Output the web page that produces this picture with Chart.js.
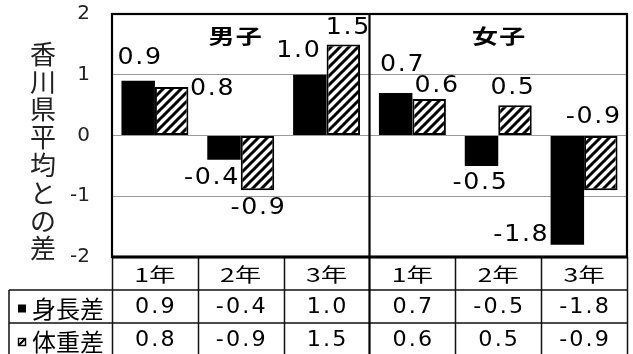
<!DOCTYPE html>
<html>
<head>
<meta charset="utf-8">
<script src="https://cdn.jsdelivr.net/npm/chart.js@4/dist/chart.umd.min.js"></script>
<style>
  html, body { margin: 0; padding: 0; background: #fff; }
  #wrap { width: 633px; height: 354px; position: relative; }
</style>
</head>
<body>
<div id="wrap"><canvas id="c" width="633" height="354"></canvas></div>
<script>
// Grade categories, split into boys (男子) and girls (女子)
const groups = ['男子', '女子'];
const grades = ['1年', '2年', '3年'];
const categories = ['1年', '2年', '3年', '1年', '2年', '3年'];
const seriesNames = ['身長差', '体重差'];
// Difference from the Kagawa prefecture average
const heightDiff = [0.9, -0.4, 1.0, 0.7, -0.5, -1.8];
const weightDiff = [0.8, -0.9, 1.5, 0.6, 0.5, -0.9];
const yTicks = [-2, -1, 0, 1, 2];
const yTitle = '香川県平均との差';

// Label placement nudges (px) from each bar's end, per series
const labelNudge = [
  [[1, -23], [-13, 18], [-12, -24], [6, -28], [-2, 17], [-47, -10]],
  [[40, 2], [0, 18], [4, -16], [7, -13], [-3, -17], [-8, -73]]
];
const groupNudge = [-6, 0];

const NUM_FONT = '"DejaVu Sans", sans-serif';
const JP_FONT = '"Noto Sans CJK JP", sans-serif';

function hatchPattern() {
  const s = 9;
  const c = document.createElement('canvas');
  c.width = s; c.height = s;
  const g = c.getContext('2d');
  g.fillStyle = '#fff';
  g.fillRect(0, 0, s, s);
  g.strokeStyle = '#000';
  g.lineWidth = 3;
  g.beginPath();
  g.moveTo(-2, s + 2); g.lineTo(s + 2, -2);
  g.moveTo(-2, 2); g.lineTo(2, -2);
  g.moveTo(s - 2, s + 2); g.lineTo(s + 2, s - 2);
  g.stroke();
  return g.createPattern(c, 'repeat');
}

// text widened horizontally by sx, centred on (x, y)
function wideText(ctx, text, x, y, sx) {
  ctx.save();
  ctx.translate(x, y);
  ctx.scale(sx, 1);
  ctx.fillText(text, 0, 0);
  ctx.restore();
}

const ctx0 = document.getElementById('c').getContext('2d');
const hatch = hatchPattern();

const valueLabels = {
  id: 'valueLabels',
  afterDatasetsDraw(chart) {
    const ctx = chart.ctx;
    ctx.save();
    ctx.fillStyle = '#000';
    ctx.font = '23px ' + NUM_FONT;
    ctx.letterSpacing = '1.5px';
    ctx.textAlign = 'center';
    ctx.textBaseline = 'middle';
    chart.data.datasets.forEach((ds, di) => {
      chart.getDatasetMeta(di).data.forEach((el, i) => {
        const [dx, dy] = labelNudge[di][i];
        wideText(ctx, ds.data[i].toFixed(1), el.x + dx + 1, el.y + dy, 1.1);
      });
    });
    ctx.restore();
  }
};

const frameAndTable = {
  id: 'frameAndTable',
  afterDraw(chart) {
    const ctx = chart.ctx;
    const a = chart.chartArea;
    const x = chart.scales.x;
    const n = categories.length;
    const colW = (a.right - a.left) / n;
    const rowH = [33, 33, 34];
    const r0 = a.bottom, r1 = r0 + rowH[0], r2 = r1 + rowH[1], r3 = r2 + rowH[2];
    const labelLeft = 9;
    ctx.save();

    // y-axis title, one character per line
    ctx.fillStyle = '#222';
    ctx.font = '26px ' + JP_FONT;
    ctx.textAlign = 'center';
    ctx.textBaseline = 'middle';
    [...yTitle].forEach((ch, i) => ctx.fillText(ch, 43, 54 + i * 27.8));

    // group headings
    ctx.fillStyle = '#000';
    ctx.font = 'bold 20px ' + JP_FONT;
    ctx.letterSpacing = '1px';
    groups.forEach((g, gi) => {
      const cx = a.left + colW * (gi * 3 + 1.5) + groupNudge[gi];
      wideText(ctx, g, cx + 1, a.top + 22, 1.3);
    });
    ctx.letterSpacing = '0px';

    // table grid
    ctx.strokeStyle = '#111';
    ctx.lineWidth = 1.5;
    ctx.beginPath();
    ctx.moveTo(labelLeft, r1); ctx.lineTo(a.right, r1);
    ctx.moveTo(labelLeft, r2); ctx.lineTo(a.right, r2);
    ctx.moveTo(labelLeft, r3); ctx.lineTo(a.right, r3);
    ctx.moveTo(labelLeft, r1); ctx.lineTo(labelLeft, r3);
    for (let i = 0; i <= n; i++) {
      if (i === 3) continue;
      const cx = Math.round(a.left + colW * i) + 0.5;
      ctx.moveTo(cx, r0); ctx.lineTo(cx, r3);
    }
    ctx.stroke();

    // plot frame and boys/girls divider
    ctx.lineWidth = 2.2;
    ctx.strokeStyle = '#000';
    ctx.strokeRect(a.left, a.top, a.right - a.left, a.bottom - a.top);
    ctx.lineWidth = 3;
    ctx.beginPath();
    ctx.moveTo(a.left, a.bottom); ctx.lineTo(a.right, a.bottom);
    ctx.stroke();
    ctx.lineWidth = 2.2;
    const mid = a.left + colW * 3;
    ctx.beginPath();
    ctx.moveTo(mid, a.top); ctx.lineTo(mid, r3);
    ctx.stroke();

    // header row
    ctx.fillStyle = '#000';
    ctx.font = '19px ' + JP_FONT;
    categories.forEach((c, i) => {
      wideText(ctx, c, x.getPixelForValue(i), (r0 + r1) / 2 + 1, 1.4);
    });

    // value rows
    ctx.font = '21px ' + NUM_FONT;
    ctx.letterSpacing = '2px';
    [heightDiff, weightDiff].forEach((vals, ri) => {
      const cy = ri === 0 ? (r1 + r2) / 2 + 1 : (r2 + r3) / 2 + 1;
      vals.forEach((v, i) => wideText(ctx, v.toFixed(1), x.getPixelForValue(i) + 1, cy, 1.06));
    });
    ctx.letterSpacing = '0px';

    // row labels with series keys
    ctx.textAlign = 'left';
    ctx.font = '24px ' + JP_FONT;
    seriesNames.forEach((s, ri) => {
      const cy = ri === 0 ? (r1 + r2) / 2 + 2 : (r2 + r3) / 2 + 2;
      ctx.fillText(s, 32, cy);
      if (ri === 0) {
        ctx.fillStyle = '#000';
        ctx.fillRect(18, cy - 4, 8, 8);
      } else {
        ctx.fillStyle = '#fff';
        ctx.fillRect(18, cy - 4, 8, 8);
        ctx.lineWidth = 1.4;
        ctx.strokeRect(18.5, cy - 3.5, 7, 7);
        ctx.beginPath();
        ctx.moveTo(19, cy + 3); ctx.lineTo(25, cy - 3);
        ctx.lineWidth = 2;
        ctx.stroke();
        ctx.fillStyle = '#000';
      }
    });
    ctx.restore();
  }
};

new Chart(ctx0, {
  type: 'bar',
  data: {
    labels: categories,
    datasets: [
      {
        label: seriesNames[0],
        data: heightDiff,
        backgroundColor: '#000',
        borderWidth: 0
      },
      {
        label: seriesNames[1],
        data: weightDiff,
        backgroundColor: hatch,
        borderColor: '#000',
        borderWidth: 2,
        borderSkipped: false
      }
    ]
  },
  options: {
    responsive: false,
    animation: false,
    devicePixelRatio: 1,
    layout: { padding: { left: 0, right: 6, top: 14, bottom: 97 } },
    datasets: { bar: { categoryPercentage: 0.78, barPercentage: 1.0 } },
    plugins: {
      legend: { display: false },
      tooltip: { enabled: false },
      title: { display: false }
    },
    scales: {
      x: { display: false, grid: { display: false } },
      y: {
        min: yTicks[0],
        max: yTicks[yTicks.length - 1],
        afterBuildTicks(s) { s.ticks = yTicks.map(v => ({ value: v })); },
        afterFit(s) {
          s.width = 112;
          s.paddingTop = 0;
          s.paddingBottom = 0;
        },
        border: { display: false },
        grid: {
          drawTicks: false,
          color: c => (Math.abs(c.tick.value) === 2 ? 'rgba(0,0,0,0)' : '#9a9a9a'),
          lineWidth: 1
        },
        ticks: {
          padding: 22,
          color: '#222',
          font: { family: 'DejaVu Sans', size: 20 },
          callback: v => String(v)
        }
      }
    }
  },
  plugins: [valueLabels, frameAndTable]
});
</script>
</body>
</html>
